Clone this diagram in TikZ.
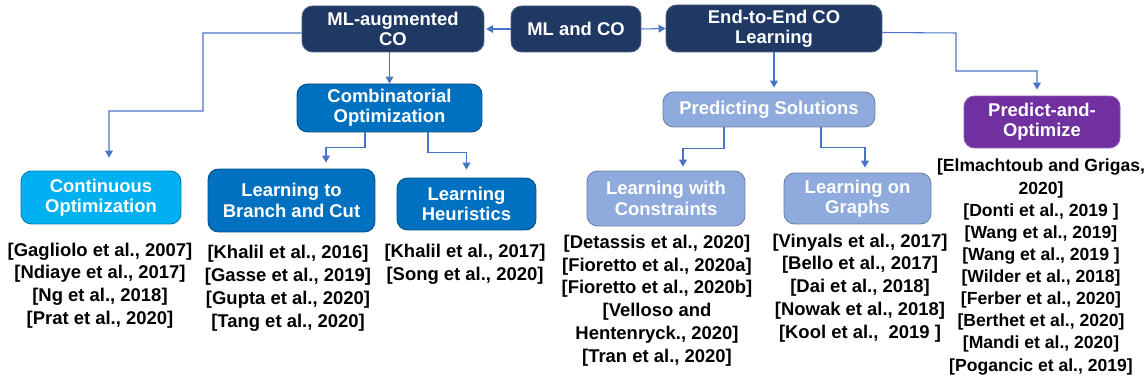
\documentclass[tikz,border=0pt]{standalone}
\usepackage{fontspec}
\setmainfont{Liberation Sans}
\usepackage{tikz}
\usetikzlibrary{arrows.meta,calc}
\usepackage{xcolor}
\definecolor{navy}{HTML}{203864}
\definecolor{midblue}{HTML}{0070C0}
\definecolor{skyblue}{HTML}{00B0F0}
\definecolor{paleblue}{HTML}{8FAADC}
\definecolor{violet}{HTML}{7030A0}
\definecolor{linkblue}{HTML}{4A74C9}

\tikzset{
  box/.style={rectangle, rounded corners=6pt, line width=0.5pt, text=white,
    align=center, font=\fontsize{10.5}{11.6}\selectfont\bfseries, inner sep=2pt},
  navybox/.style={box, fill=navy, draw=navy!80!white},
  bluebox/.style={box, fill=midblue, draw=midblue!70!black},
  skybox/.style={box, fill=skyblue, draw=skyblue!70!black},
  palebox/.style={box, fill=paleblue, draw=paleblue!75!black},
  violetbox/.style={box, fill=violet, draw=violet!80!white},
  refs/.style={align=center, font=\fontsize{10.5}{13}\selectfont\bfseries, inner sep=0pt},
  link/.style={draw=linkblue, line width=0.6pt, -{Triangle[length=4pt,width=4.5pt]}},
}

\begin{document}
\begin{tikzpicture}[x=0.02cm, y=-0.02cm]
  \useasboundingbox (0,0) rectangle (1148,384);

  % top row
  \node[navybox, minimum width=2.6cm, minimum height=0.92cm] (mlco) at (576,29) {ML and CO};
  \node[navybox, minimum width=3.64cm, minimum height=0.92cm] (mlaug) at (393,29) {ML-augmented\\CO};
  \node[navybox, minimum width=4.32cm, minimum height=0.94cm] (etoe) at (774,28.5) {End-to-End CO\\Learning};

  % second row
  \node[bluebox, minimum width=3.7cm, minimum height=0.96cm] (combopt) at (389.5,108) {Combinatorial\\Optimization};
  \node[palebox, minimum width=4.24cm, minimum height=0.7cm] (predsol) at (769,109.5) {Predicting Solutions};
  \node[violetbox, minimum width=3.12cm, minimum height=1.04cm] (pando) at (1042,122) {Predict-and-\\Optimize};

  % third row
  \node[skybox, minimum width=3.2cm, minimum height=1.06cm] (contopt) at (101,197.5) {Continuous\\Optimization};
  \node[bluebox, minimum width=3.34cm, minimum height=1.26cm] (branch) at (291.5,200.5) {Learning to\\Branch and Cut};
  \node[bluebox, minimum width=2.78cm, minimum height=1.04cm] (heur) at (466.5,204) {Learning\\Heuristics};
  \node[palebox, minimum width=3.16cm, minimum height=1.1cm] (lwc) at (666,198.5) {Learning with\\Constraints};
  \node[palebox, minimum width=2.94cm, minimum height=1.02cm] (lgraph) at (857.5,198.5) {Learning on\\Graphs};

  % references under each leaf
  \node[refs] (contrefs) at (100,285.5) {{[Gagliolo et al., 2007]}\\{[Ndiaye et al., 2017]}\\{[Ng et al., 2018]}\\{[Prat et al., 2020]}};
  \node[refs] (branchrefs) at (288,288.5) {{[Khalil et al., 2016]}\\{[Gasse et al., 2019]}\\{[Gupta et al., 2020]}\\{[Tang et al., 2020]}};
  \node[refs] (heurrefs) at (465,264.5) {{[Khalil et al., 2017]}\\{[Song et al., 2020]}};
  \node[refs] (lwcrefs) at (657,300.5) {{[Detassis et al., 2020]}\\{[Fioretto et al., 2020a]}\\{[Fioretto et al., 2020b]}\\{[Velloso and}\\{Hentenryck., 2020]}\\{[Tran et al., 2020]}};
  \node[refs] (lgraphrefs) at (860,288) {{[Vinyals et al., 2017]}\\{[Bello et al., 2017]}\\{[Dai et al., 2018]}\\{[Nowak et al., 2018]}\\{[Kool et al.,~~2019 ]}};
  \node[refs, font=\fontsize{10}{12.6}\selectfont\bfseries] (pandorefs) at (1041,267) {{[Elmachtoub and Grigas,}\\{2020]}\\{[Donti et al., 2019 ]}\\{[Wang et al., 2019]}\\{[Wang et al., 2019 ]}\\{[Wilder et al., 2018]}\\{[Ferber et al., 2020]}\\{[Berthet et al., 2020]}\\{[Mandi et al., 2020]}\\{[Pogancic et al., 2019]}};

  % connectors
  \draw[link, shorten >=1pt] (mlco.west) -- (mlaug.east);
  \draw[link] (mlco.east) -- (etoe.west);
  \draw[link] (combopt.north |- mlaug.south) -- (combopt.north);
  \draw[link, shorten >=0.26cm] ([yshift=-0.08cm]mlaug.west) -- (203,33) |- (109,111) -- ([xshift=0.16cm]contopt.north);
  \draw[link, shorten >=0.12cm] ([xshift=-0.49cm]combopt.south) -- ++(0,15) -| ([xshift=0.69cm]branch.north);
  \draw[link, shorten >=0.16cm] ([xshift=0.77cm]combopt.south) -- ++(0,20) -| (heur.north);
  \draw[link, shorten >=0.08cm] (etoe.south) -- (etoe.south |- predsol.north);
  \draw[link, shorten >=0.12cm] ([yshift=-0.08cm]etoe.east) -- (956,33) |- (1037,71) -- ([xshift=-0.1cm]pando.north);
  \draw[link, shorten >=0.08cm] ([xshift=-0.9cm]predsol.south) -- ++(0,21) -| ([xshift=0.34cm]lwc.north);
  \draw[link, shorten >=0.1cm] ([xshift=1.04cm]predsol.south) -- ++(0,20) -| ([xshift=0.15cm]lgraph.north);
\end{tikzpicture}
\end{document}
